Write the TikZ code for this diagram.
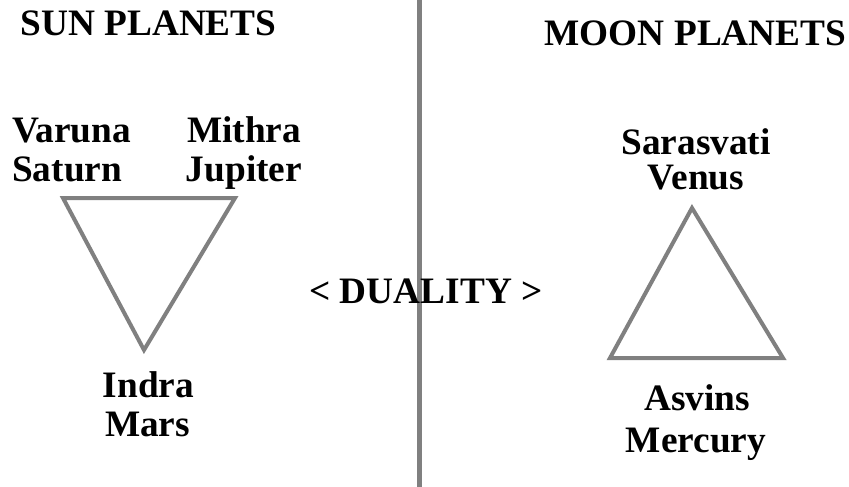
\documentclass[tikz,border=0pt]{standalone}
\usepackage{fontspec}
\setmainfont{Liberation Serif}
\begin{document}
\begin{tikzpicture}[x=1pt,y=-1pt,
  lbl/.style={font=\fontsize{37.3}{40}\selectfont\bfseries, inner sep=0pt, anchor=base},
  tri/.style={draw=graydiag, line width=4pt, line join=miter},
  divider/.style={draw=graydiag, line width=5pt}]
\definecolor{graydiag}{RGB}{128,128,128}
\useasboundingbox (0,0) rectangle (849,487);
\fill[white] (0,0) rectangle (849,487);
% divider
\coordinate (dtop) at (419,0);
\coordinate (dbot) at (419,487);
\draw[divider] (dtop) -- (dbot);
% left triangle
\coordinate (l1) at (63,198);
\coordinate (l2) at (235,198);
\coordinate (l3) at (144,350);
\draw[tri] (l1) -- (l2) -- (l3) -- cycle;
% right triangle
\coordinate (r1) at (692,208);
\coordinate (r2) at (783,358);
\coordinate (r3) at (610,358);
\draw[tri] (r1) -- (r2) -- (r3) -- cycle;
% labels
\node[lbl] (sun) at (148.5,36) {SUN PLANETS};
\node[lbl] (moon) at (695.5,46) {MOON PLANETS};
\node[lbl, anchor=base west] (varuna) at (12,142) {Varuna};
\node[lbl, anchor=base west] (saturn) at (12,181) {Saturn};
\node[lbl] (mithra) at (244,142) {Mithra};
\node[lbl] (jupiter) at (244,181) {Jupiter};
\node[lbl] (indra) at (148.5,397) {Indra};
\node[lbl] (mars) at (147.5,436) {Mars};
\node[lbl] (sarasvati) at (696,154) {Sarasvati};
\node[lbl] (venus) at (696,189) {Venus};
\node[lbl] (asvins) at (697,410) {Asvins};
\node[lbl] (mercury) at (696,452) {Mercury};
\node[lbl] (duality) at (426,303) {< DUALITY >};
\end{tikzpicture}
\end{document}
